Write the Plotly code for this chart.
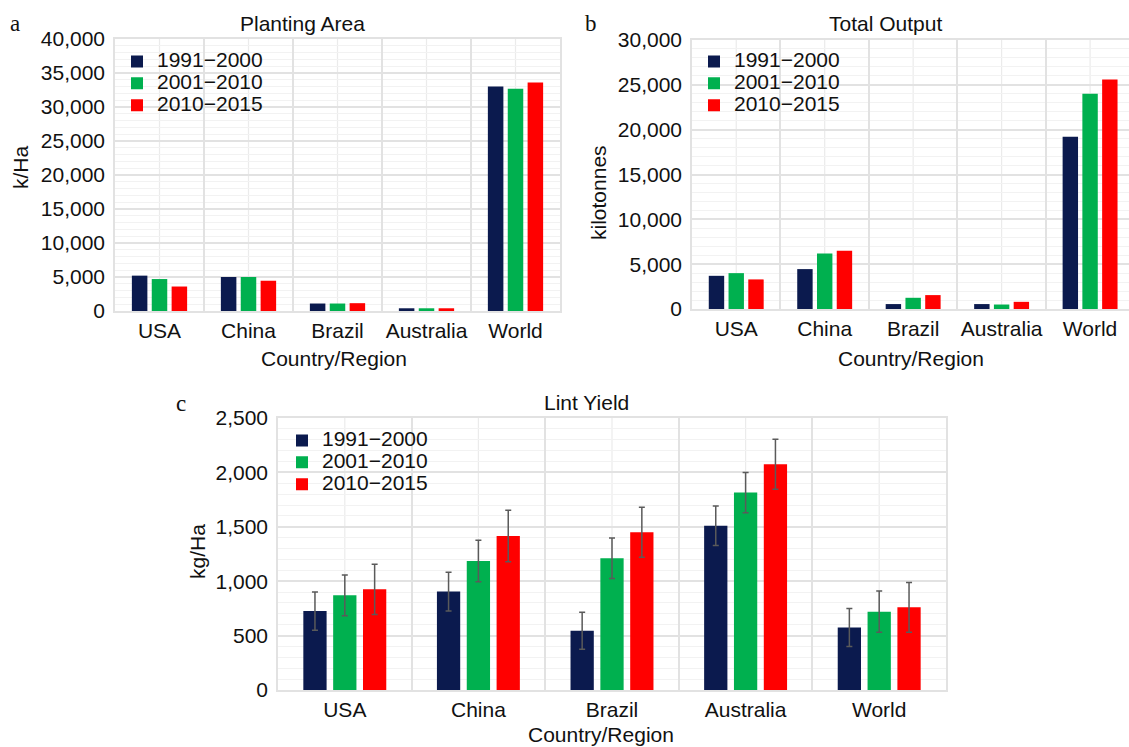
import plotly.graph_objects as go

W, H = 1129, 747

categories = ["USA", "China", "Brazil", "Australia", "World"]
periods = ["1991−2000", "2001−2010", "2010−2015"]

area_1991_2000 = [5200, 5000, 1100, 400, 33000]
area_2001_2010 = [4700, 5000, 1100, 400, 32700]
area_2010_2015 = [3600, 4450, 1150, 400, 33600]

output_1991_2000 = [3700, 4450, 550, 550, 19200]
output_2001_2010 = [4000, 6200, 1250, 500, 24000]
output_2010_2015 = [3300, 6500, 1550, 800, 25600]

yield_1991_2000 = [725, 905, 545, 1510, 575]
yield_2001_2010 = [870, 1185, 1210, 1815, 720]
yield_2010_2015 = [925, 1415, 1450, 2075, 760]
yield_err_1991_2000 = [175, 178, 170, 182, 175]
yield_err_2001_2010 = [188, 191, 186, 185, 190]
yield_err_2010_2015 = [231, 236, 229, 230, 229]

colors = ["#0b1a4e", "#00b04f", "#ff0000"]
FONT = "Liberation Sans, Arial, sans-serif"
SERIF = "Liberation Serif, Times New Roman, serif"
FS = 21


def px_x(v):
    return v / W


def px_y(v):
    return 1 - v / H


fig = go.Figure()

panels = [
    ("x", "y", "legend", [area_1991_2000, area_2001_2010, area_2010_2015], None),
    ("x2", "y2", "legend2", [output_1991_2000, output_2001_2010, output_2010_2015], None),
    ("x3", "y3", "legend3", [yield_1991_2000, yield_2001_2010, yield_2010_2015],
     [yield_err_1991_2000, yield_err_2001_2010, yield_err_2010_2015]),
]

for xa, ya, lg, series, errs in panels:
    for i, (name, vals) in enumerate(zip(periods, series)):
        kw = {}
        if errs is not None:
            kw["error_y"] = dict(type="data", array=errs[i], visible=True,
                                 color="#5a5a5a", thickness=1.5, width=3)
        fig.add_trace(go.Bar(
            x=categories, y=vals,
            name=f'<span style="font-size:{FS}px">{name}</span>',
            marker=dict(color=colors[i], line=dict(width=0)),
            xaxis=xa, yaxis=ya, legend=lg, **kw))

major_grid = "#e2e2e2"
minor_grid = "#f2f2f2"


def yaxis(domain, rng, dtick, anchor):
    return dict(domain=domain, range=rng, dtick=dtick, tickformat=",",
                showgrid=True, gridcolor=major_grid, gridwidth=1.5,
                minor=dict(dtick=dtick / 5, showgrid=True, gridcolor=minor_grid, gridwidth=1),
                ticks="", showline=True, mirror=True, linecolor=major_grid, linewidth=1.5,
                zeroline=False, anchor=anchor, ticklabelstandoff=4, automargin=False,
                tickfont=dict(family=FONT, size=FS, color="#111"))


def xaxis(domain, rng, anchor):
    return dict(domain=domain, range=rng, type="category", tickson="boundaries",
                showgrid=True, gridcolor=major_grid, gridwidth=1.5, tickangle=0,
                ticks="", showline=True, mirror=True, linecolor=major_grid, linewidth=1.5,
                zeroline=False, anchor=anchor, ticklabelstandoff=0, automargin=False,
                tickfont=dict(family=FONT, size=FS, color="#111"))


layout = dict(
    width=W, height=H, margin=dict(l=0, r=0, t=0, b=0, pad=0),
    paper_bgcolor="white", plot_bgcolor="white",
    barmode="group", bargap=0.33, bargroupgap=0.22,
    font=dict(family=FONT, size=FS, color="#111"),
    xaxis=xaxis([px_x(115), px_x(560)], [-0.5, 4.5], "y"),
    yaxis=yaxis([px_y(311), px_y(39)], [0, 40000], 5000, "x"),
    xaxis2=xaxis([px_x(692), 1.0], [-0.5, 4.44], "y2"),
    yaxis2=yaxis([px_y(309), px_y(40)], [0, 30000], 5000, "x2"),
    xaxis3=xaxis([px_x(278), px_x(946)], [-0.5, 4.5], "y3"),
    yaxis3=yaxis([px_y(690), px_y(418)], [0, 2500], 500, "x3"),
)

leg_common = dict(bgcolor="rgba(0,0,0,0)", borderwidth=0, xanchor="left", yanchor="top",
                  font=dict(family=FONT, size=14.5, color="#111"), traceorder="normal",
                  xref="paper", yref="paper")
layout["legend"] = dict(x=px_x(157 - 40), y=px_y(45.5), **leg_common)
layout["legend2"] = dict(x=px_x(734 - 40), y=px_y(45.5), **leg_common)
layout["legend3"] = dict(x=px_x(322 - 40), y=px_y(424.5), **leg_common)

fig.update_layout(**layout)

# lighter vertical lines at category centres
shapes = []
for xa, ya in [("x", "y"), ("x2", "y2"), ("x3", "y3")]:
    for i in range(len(categories)):
        shapes.append(dict(type="line", xref=xa, yref=f"{ya} domain", x0=i, x1=i, y0=0, y1=1,
                           line=dict(color="#ebebeb", width=1.2), layer="below"))
fig.update_layout(shapes=shapes)


def ann(text, x, y, size=FS, family=FONT, angle=0):
    fig.add_annotation(text=text, x=px_x(x), y=px_y(y), xref="paper", yref="paper",
                       xanchor="center", yanchor="middle", showarrow=False, textangle=angle,
                       font=dict(family=family, size=size, color="#111"))


ann("Planting Area", 302, 23)
ann("Total Output", 885, 23)
ann("Lint Yield", 586, 402)
ann("Country/Region", 334, 358)
ann("Country/Region", 911, 358)
ann("Country/Region", 601, 734)
ann("k/Ha", 20, 167, angle=-90)
ann("kilotonnes", 598, 193, angle=-90)
ann("kg/Ha", 197, 552, angle=-90)
ann("a", 15, 24, size=23, family=SERIF)
ann("b", 591, 23, size=23, family=SERIF)
ann("c", 181, 403, size=23, family=SERIF)

fig.write_html("out.html", config={"displayModeBar": False},
               post_script="document.body.style.margin='0';document.body.style.overflow='hidden';")
